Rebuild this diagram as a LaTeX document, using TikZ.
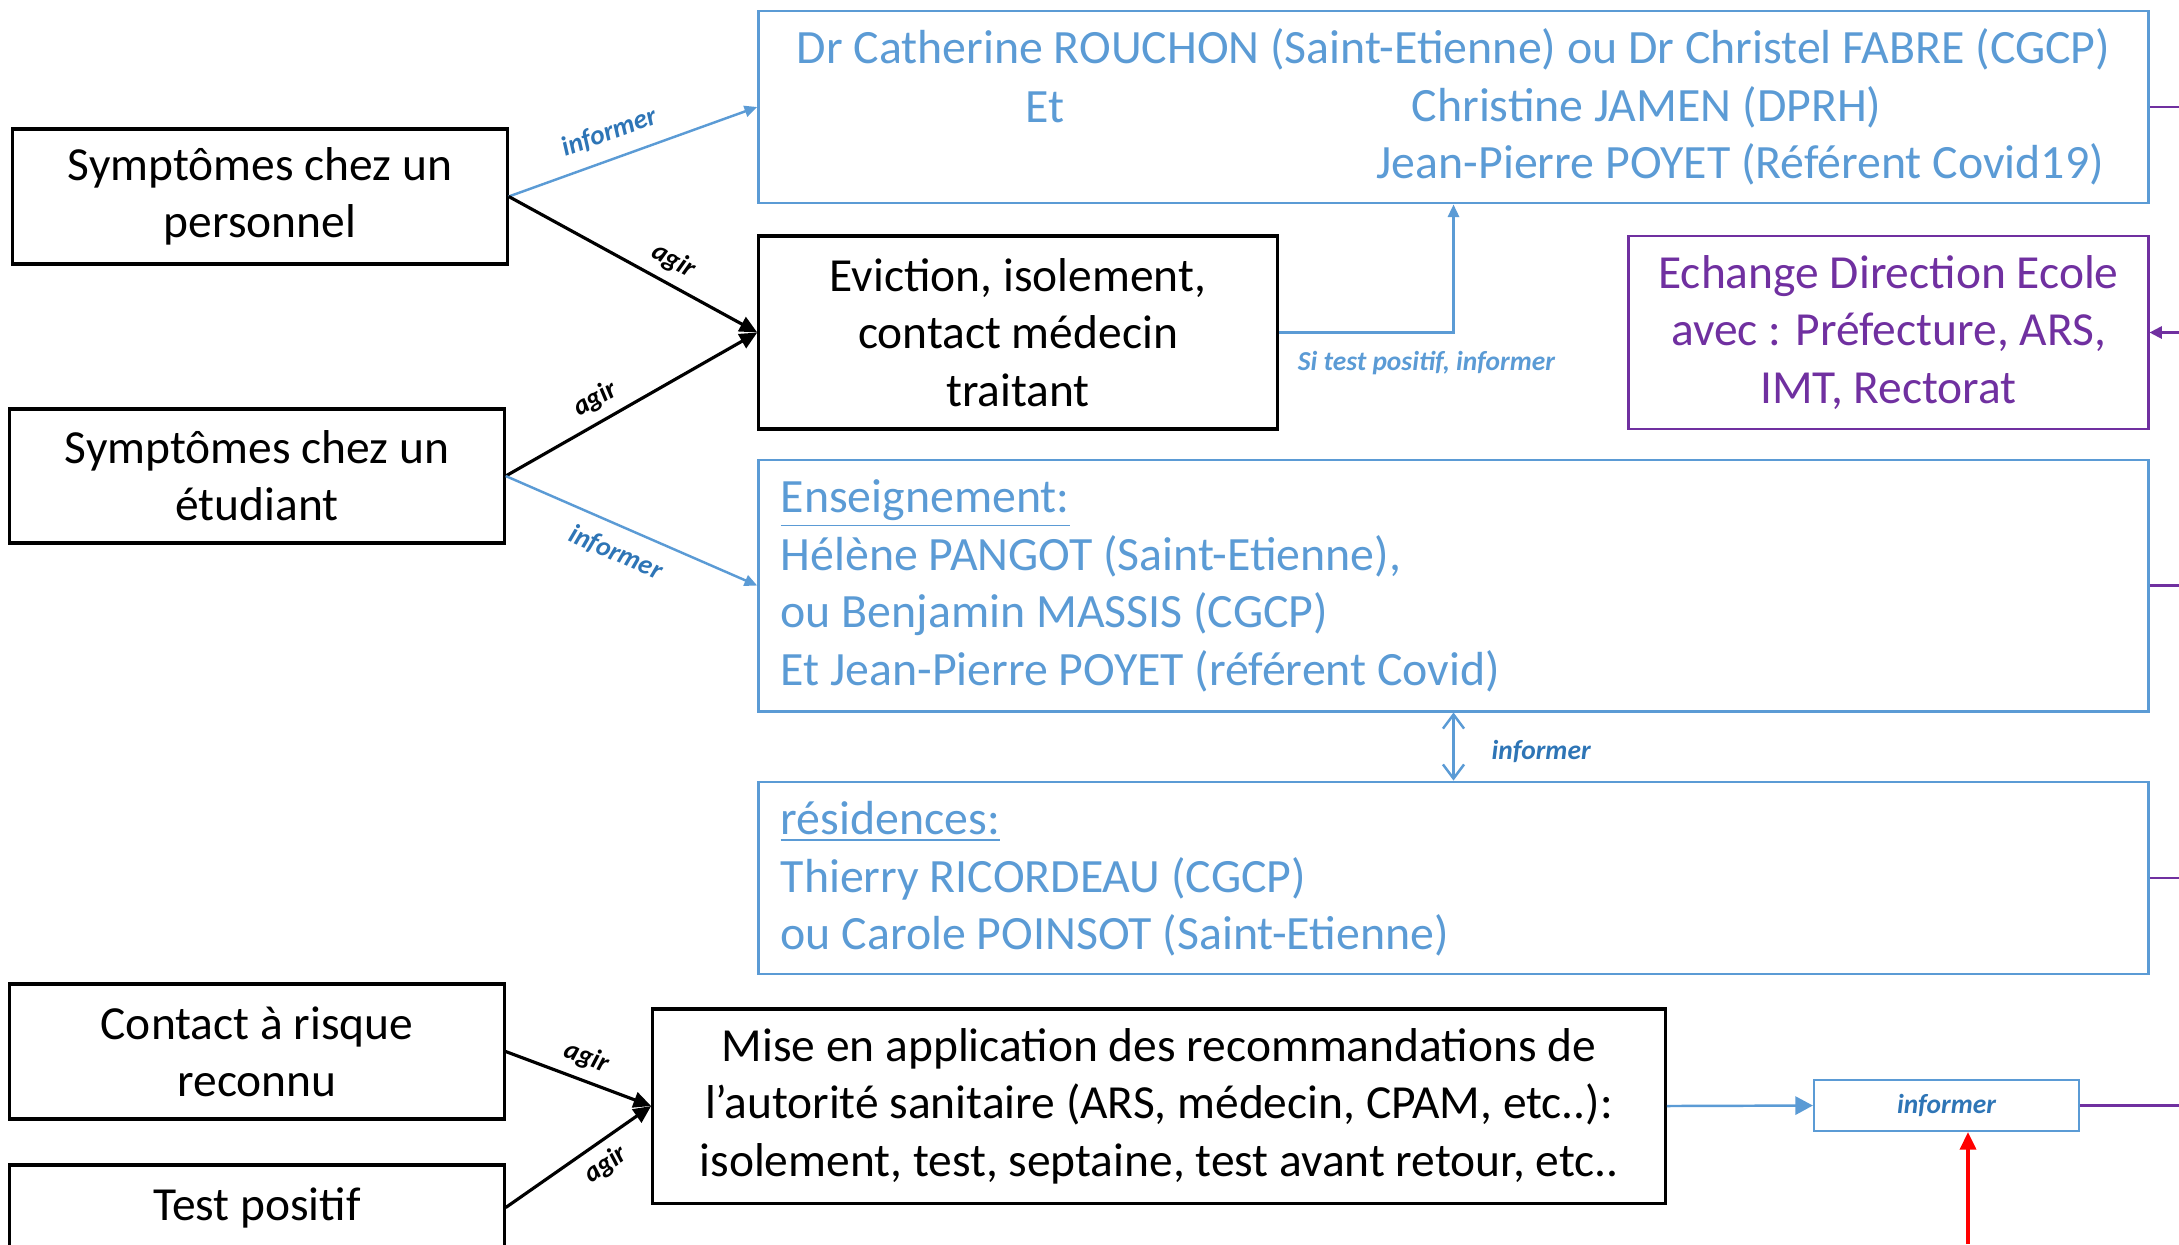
\documentclass[tikz,border=0pt]{standalone}
\usepackage{fontspec}
\setmainfont{Carlito}
\usetikzlibrary{arrows.meta, positioning, calc}
\definecolor{bleu}{HTML}{5B9BD5}
\definecolor{bleufonce}{HTML}{2E75B6}
\definecolor{violet}{HTML}{7030A0}

\tikzset{
  boite/.style={draw, line width=0.9pt, align=center, inner sep=0pt,
    font=\fontsize{13.5}{16.3}\selectfont},
  cadrebleu/.style={draw=bleu, line width=0.8pt, inner sep=0pt},
  textebleu/.style={text=bleu, align=left, inner sep=0pt,
    font=\fontsize{13.6}{16.4}\selectfont},
  lab/.style={font=\fontsize{7.8}{9}\selectfont\bfseries\itshape, inner sep=2.5pt},
  agir/.style={draw, line width=0.9pt, -{Triangle[length=5pt, width=4.5pt]}},
  informer/.style={draw=bleu, line width=0.7pt, -{Triangle[length=3.6pt, width=3.2pt]}},
}

\begin{document}
\begin{tikzpicture}[x=0.01cm, y=-0.01cm]
\useasboundingbox (0,0) rectangle (2179,1244);

% cas de depart
\node[boite, minimum width=4.94cm, minimum height=1.35cm] (pers) at (260,196.5) {Symptômes chez un\\personnel};
\node[boite, minimum width=4.94cm, minimum height=1.34cm] (etu) at (257,476) {Symptômes chez un\\étudiant};
\node[boite, minimum width=4.94cm, minimum height=1.35cm] (cont) at (257,1051.5) {Contact à risque\\reconnu};
\node[boite, minimum width=4.94cm, minimum height=0.85cm] (test) at (257,1207.5) {Test positif};

% actions
\node[boite, minimum width=5.18cm, minimum height=1.93cm] (evic) at (1018,332.5) {Eviction, isolement,\\contact médecin\\traitant};
\node[boite, minimum width=10.12cm, minimum height=1.94cm] (mise) at (1159,1106) {Mise en application des recommandations de\\l’autorité sanitaire (ARS, médecin, CPAM, etc..):\\isolement, test, septaine, test avant retour, etc..};

% interlocuteurs
\node[cadrebleu, minimum width=13.89cm, minimum height=1.92cm] (top) at (1453.5,107) {};
\node[textebleu] at (1453.5,49) {Dr Catherine ROUCHON (Saint-Etienne) ou Dr Christel FABRE (CGCP)};
\node[textebleu] at (1045,107) {Et};
\node[textebleu, anchor=west] at (1411,107) {Christine JAMEN (DPRH)};
\node[textebleu, anchor=west] at (1376,164) {Jean-Pierre POYET (Référent Covid19)};

\node[draw=violet, line width=0.8pt, text=violet, align=center, inner sep=0pt,
  font=\fontsize{13.5}{16.3}\selectfont, minimum width=5.19cm, minimum height=1.93cm]
  (ech) at (1888.5,332.5) {Echange Direction Ecole\\avec : Préfecture, ARS,\\IMT, Rectorat};

\node[cadrebleu, minimum width=13.89cm, minimum height=2.51cm] (ens) at (1453.5,585.5) {};
\node[textebleu, anchor=west] at (780,586) {\underline{Enseignement:}\\Hélène PANGOT (Saint-Etienne),\\ou Benjamin MASSIS (CGCP)\\Et Jean-Pierre POYET (référent Covid)};

\node[cadrebleu, minimum width=13.89cm, minimum height=1.92cm] (res) at (1453.5,878) {};
\node[textebleu, anchor=west] at (780,879) {\underline{résidences:}\\Thierry RICORDEAU (CGCP)\\ou Carole POINSOT (Saint-Etienne)};

\node[cadrebleu, line width=0.6pt, minimum width=2.65cm, minimum height=0.51cm,
  lab, text=bleufonce] (inf) at (1946.5,1105.5) {informer};

% bords droits
\coordinate (d1) at (2179,107);
\coordinate (d2) at (2179,332.5);
\coordinate (d3) at (2179,585.5);
\coordinate (d4) at (2179,878);
\coordinate (d5) at (2179,1105.5);
\coordinate (bas) at (1968,1244);

% fleches
\draw[informer] (pers.east) -- node[lab, text=bleufonce, sloped, above, pos=0.44, inner sep=4pt] {informer} (top.west);
\draw[agir] (pers.east) -- node[lab, sloped, above, pos=0.62] {agir} (evic.west);
\draw[agir] (etu.east) -- node[lab, sloped, above, pos=0.4] {agir} (evic.west);
\draw[informer] (etu.east) -- node[lab, text=bleufonce, sloped, below, pos=0.48, inner sep=4pt] {informer} (ens.west);

\draw[informer] (evic.east) -| node[lab, text=bleu, pos=0.5, xshift=-7.7pt, yshift=-8.8pt] {Si test positif, informer} (top.south);
\draw[draw=bleu, line width=0.7pt, {Straight Barb[length=4pt, width=6pt]}-{Straight Barb[length=4pt, width=6pt]}] (ens.south) -- node[lab, text=bleufonce, right=8pt, yshift=-1.5pt] {informer} (res.north);

\draw[agir] (cont.east) -- node[lab, sloped, above, pos=0.5] {agir} (mise.west);
\draw[agir] (test.east) -- node[lab, sloped, below, pos=0.6] {agir} (mise.west);
\draw[draw=bleu, line width=0.7pt, -{Triangle[length=5pt, width=5.2pt]}] (mise.east) -- (inf.west);

\draw[violet, line width=0.6pt] (top.east) -- (d1);
\draw[violet, line width=0.6pt, -{Triangle[length=3.5pt, width=3.5pt]}] (d2) -- (ech.east);
\draw[violet, line width=0.6pt] (ens.east) -- (d3);
\draw[violet, line width=0.6pt] (res.east) -- (d4);
\draw[violet, line width=0.6pt] (inf.east) -- (d5);
\draw[red, line width=0.9pt, -{Triangle[length=5pt, width=4.6pt]}] (bas) -- (inf.south -| bas);

\end{tikzpicture}
\end{document}
